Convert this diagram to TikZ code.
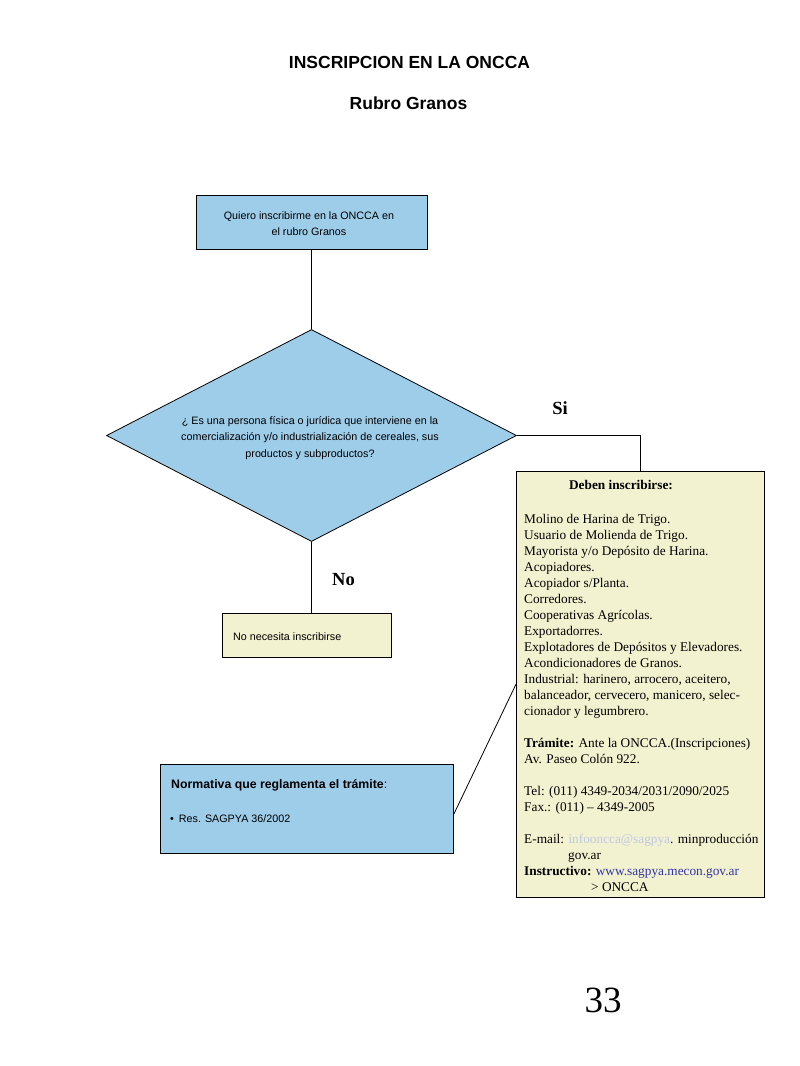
\documentclass[tikz,border=0pt]{standalone}
\usepackage{fontspec}
\setmainfont{Liberation Serif}
\newfontfamily\arial{Liberation Sans}
\usetikzlibrary{shapes.geometric,calc}
\definecolor{blueF}{RGB}{158,205,234}
\definecolor{yellowF}{RGB}{242,242,208}
\definecolor{linkblue}{RGB}{51,51,170}
\definecolor{mailgrey}{RGB}{190,200,228}
\tikzset{
  bluebox/.style={draw=black, fill=blueF, line width=0.8pt, inner sep=0pt},
  yellowbox/.style={draw=black, fill=yellowF, line width=0.8pt, inner sep=0pt},
  conn/.style={draw=black, line width=0.8pt},
  sanstext/.style={font=\arial\fontsize{10.75}{16}\selectfont, inner sep=0pt},
  decision/.style={font={\fontsize{18.5}{20}\selectfont\bfseries}, inner sep=0pt}
}
\begin{document}
\begin{tikzpicture}[x=1pt,y=-1pt]
\useasboundingbox (0,0) rectangle (800,1066);
% titles
\node[font=\arial\bfseries\fontsize{17.5}{20}\selectfont, anchor=base, inner sep=0pt] (title) at (409.5,68) {INSCRIPCION EN LA ONCCA};
\node[font=\arial\bfseries\fontsize{17.5}{20}\selectfont, anchor=base, inner sep=0pt] (sub) at (408.5,109) {Rubro Granos};
% top box
\node[bluebox, minimum width=231pt, minimum height=54pt] (top) at (311.5,222) {};
\node[sanstext, align=center, anchor=base] (toptxt) at (309,235) {Quiero inscribirme en la ONCCA en\\el rubro Granos};
% diamond
\node[draw=black, fill=blueF, line width=0.8pt, shape=diamond, minimum width=410pt, minimum height=212pt, inner sep=0pt] (q) at (311.5,435.5) {};
\node[sanstext, align=center, anchor=base, font=\arial\fontsize{10.75}{16.5}\selectfont] (qtxt) at (310,457) {¿ Es una persona física o jurídica que interviene en la\\comercialización y/o industrialización de cereales, sus\\productos y subproductos?};
% right box
\node[yellowbox, minimum width=248pt, minimum height=426pt] (deb) at (640.5,684) {};
\node[font=\fontsize{13.3}{16}\selectfont\bfseries, anchor=base, inner sep=0pt] (debh) at (621,489) {Deben inscribirse:};
\node[font=\fontsize{13.3}{16}\selectfont, align=left, anchor=north west, inner sep=0pt] (debtxt) at (524,514.5) {%
Molino de Harina de Trigo.\\
Usuario de Molienda de Trigo.\\
Mayorista y/o Depósito de Harina.\\
Acopiadores.\\
Acopiador s/Planta.\\
Corredores.\\
Cooperativas Agrícolas.\\
Exportadorres.\\
Explotadores de Depósitos y Elevadores.\\
Acondicionadores de Granos.\\
Industrial: harinero, arrocero, aceitero,\\
balanceador, cervecero, manicero, selec-\\
cionador y legumbrero.\\[16pt]
\textbf{Trámite:} Ante la ONCCA.(Inscripciones)\\
Av. Paseo Colón 922.\\[16pt]
Tel: (011) 4349-2034/2031/2090/2025\\
Fax.: (011) -- 4349-2005\\[16pt]
E-mail: \textcolor{mailgrey}{infooncca@sagpya}. minproducción\\
\hspace*{44pt}gov.ar\\
\textbf{Instructivo:} \textcolor{linkblue}{www.sagpya.mecon.gov.ar}\\
\hspace*{67pt}> ONCCA};
% no box
\node[yellowbox, minimum width=169pt, minimum height=44pt] (no) at (306.5,635) {};
\node[sanstext, anchor=base west] (notxt) at (233,640) {No necesita inscribirse};
% normativa box
\node[bluebox, minimum width=293pt, minimum height=89pt] (norm) at (306.5,808.5) {};
\node[font=\arial\fontsize{12.3}{14}\selectfont, anchor=base west, inner sep=0pt] (normh) at (171,788) {\textbf{Normativa que reglamenta el trámite}:};
\node[sanstext, anchor=base west] (normb) at (170,822) {•\hspace{5pt}Res. SAGPYA 36/2002};
% labels
\node[decision, anchor=base] (si) at (560,414) {Si};
\node[decision, anchor=base] (nolab) at (343.5,585) {No};
% page number
\node[font=\fontsize{37}{40}\selectfont, anchor=base, inner sep=0pt] (page) at (603,1012) {33};
% connectors
\draw[conn] (top.south) -- (q.north);
\draw[conn] (q.east) -| (deb.north);
\draw[conn] (q.south) -- (q.south |- no.north);
\draw[conn] ([yshift=-6.5pt]norm.east) -- (deb.west);
\end{tikzpicture}
\end{document}
